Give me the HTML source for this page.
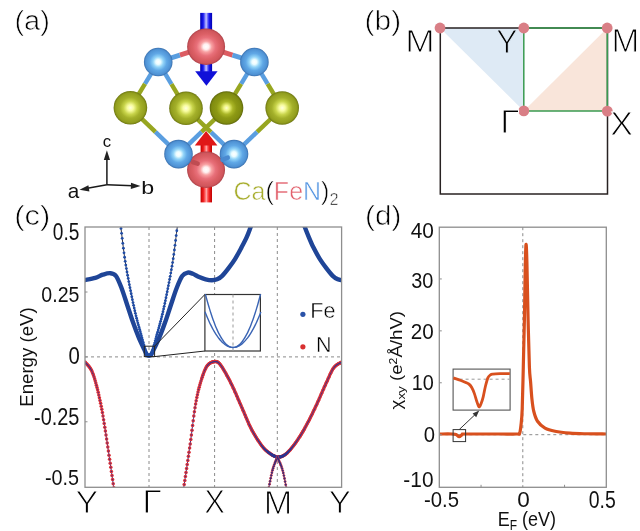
<!DOCTYPE html>
<html><head><meta charset="utf-8"><title>Ca(FeN)2</title>
<style>html,body{margin:0;padding:0;background:#fff;width:640px;height:531px;overflow:hidden}svg{display:block}
text{font-family:'Liberation Sans','DejaVu Sans',sans-serif}
.tri{fill:#111}
.form{fill:#000;stroke:#fff;stroke-width:0.6px}
.lab{fill:#000;stroke:#fff;stroke-width:0.7px}
.big{fill:#000;stroke:#fff;stroke-width:1.0px}
.bigY{fill:#000;stroke:#deeaf5;stroke-width:1.0px}
.leg{fill:#000;stroke:#fff;stroke-width:0.45px}
.tick{fill:#111}
.axl{fill:#111}
</style>
</head><body>
<svg width="640" height="531" viewBox="0 0 640 531"><defs>
<radialGradient id="gRed" cx="50%" cy="50%" r="50%">
 <stop offset="0" stop-color="#ffffff"/>
 <stop offset="0.15" stop-color="#fff0f0"/>
 <stop offset="0.3" stop-color="#f8a0a2"/>
 <stop offset="0.5" stop-color="#e8707a"/>
 <stop offset="0.7" stop-color="#dc6066"/>
 <stop offset="0.9" stop-color="#d0565c"/>
 <stop offset="0.97" stop-color="#b8484e"/>
 <stop offset="1" stop-color="#a84048"/>
</radialGradient>
<radialGradient id="gBlue" cx="50%" cy="50%" r="50%">
 <stop offset="0" stop-color="#ffffff"/>
 <stop offset="0.17" stop-color="#eafcff"/>
 <stop offset="0.36" stop-color="#92d4f8"/>
 <stop offset="0.6" stop-color="#60a8e6"/>
 <stop offset="0.88" stop-color="#4f92d4"/>
 <stop offset="0.97" stop-color="#3f78b8"/>
 <stop offset="1" stop-color="#346aa4"/>
</radialGradient>
<radialGradient id="gOlive" cx="50%" cy="50%" r="50%">
 <stop offset="0" stop-color="#ffffe0"/>
 <stop offset="0.18" stop-color="#f8fca0"/>
 <stop offset="0.4" stop-color="#c8d44a"/>
 <stop offset="0.62" stop-color="#a4b02a"/>
 <stop offset="0.88" stop-color="#929e1e"/>
 <stop offset="0.97" stop-color="#788214"/>
 <stop offset="1" stop-color="#687010"/>
</radialGradient>
<radialGradient id="gOlive3" cx="50%" cy="50%" r="50%">
 <stop offset="0" stop-color="#ffffd0"/>
 <stop offset="0.16" stop-color="#eef480"/>
 <stop offset="0.38" stop-color="#aab626"/>
 <stop offset="0.6" stop-color="#8d9914"/>
 <stop offset="0.88" stop-color="#808c10"/>
 <stop offset="0.97" stop-color="#68720c"/>
 <stop offset="1" stop-color="#5a620a"/>
</radialGradient>
<linearGradient id="gShaftB" x1="0" x2="1" y1="0" y2="0">
 <stop offset="0" stop-color="#0000b0"/>
 <stop offset="0.25" stop-color="#1818f0"/>
 <stop offset="0.42" stop-color="#8888ff"/>
 <stop offset="0.5" stop-color="#c8c8ff"/>
 <stop offset="0.58" stop-color="#8888ff"/>
 <stop offset="0.75" stop-color="#1818f0"/>
 <stop offset="1" stop-color="#0000b0"/>
</linearGradient>
<linearGradient id="gShaftR" x1="0" x2="1" y1="0" y2="0">
 <stop offset="0" stop-color="#c00000"/>
 <stop offset="0.25" stop-color="#f02020"/>
 <stop offset="0.42" stop-color="#ff7070"/>
 <stop offset="0.5" stop-color="#ffb0b0"/>
 <stop offset="0.58" stop-color="#ff7070"/>
 <stop offset="0.75" stop-color="#f02020"/>
 <stop offset="1" stop-color="#c00000"/>
</linearGradient>
</defs>
<g>
<line x1="158.20" y1="62.00" x2="144.97" y2="83.79" stroke="#5a9ee0" stroke-width="4.4"/><line x1="144.97" y1="83.79" x2="130.40" y2="107.80" stroke="#97a620" stroke-width="4.4"/>
<line x1="158.20" y1="62.00" x2="171.43" y2="84.04" stroke="#5a9ee0" stroke-width="4.4"/><line x1="171.43" y1="84.04" x2="186.00" y2="108.30" stroke="#97a620" stroke-width="4.4"/>
<line x1="254.40" y1="62.00" x2="241.12" y2="83.89" stroke="#5a9ee0" stroke-width="4.4"/><line x1="241.12" y1="83.89" x2="226.50" y2="108.00" stroke="#97a620" stroke-width="4.4"/>
<line x1="254.40" y1="62.00" x2="267.63" y2="83.89" stroke="#5a9ee0" stroke-width="4.4"/><line x1="267.63" y1="83.89" x2="282.20" y2="108.00" stroke="#97a620" stroke-width="4.4"/>
<line x1="178.50" y1="154.10" x2="155.39" y2="131.85" stroke="#5a9ee0" stroke-width="4.4"/><line x1="155.39" y1="131.85" x2="130.40" y2="107.80" stroke="#97a620" stroke-width="4.4"/>
<line x1="234.00" y1="154.10" x2="257.16" y2="131.95" stroke="#5a9ee0" stroke-width="4.4"/><line x1="257.16" y1="131.95" x2="282.20" y2="108.00" stroke="#97a620" stroke-width="4.4"/>
<line x1="234.00" y1="154.10" x2="210.94" y2="132.10" stroke="#5a9ee0" stroke-width="4.4"/><line x1="210.94" y1="132.10" x2="186.00" y2="108.30" stroke="#97a620" stroke-width="4.4"/>
<line x1="178.50" y1="154.10" x2="201.56" y2="131.95" stroke="#5a9ee0" stroke-width="4.4"/><line x1="201.56" y1="131.95" x2="226.50" y2="108.00" stroke="#97a620" stroke-width="4.4"/>
<line x1="206.10" y1="46.70" x2="179.86" y2="55.08" stroke="#dc5c62" stroke-width="4.9"/><line x1="179.86" y1="55.08" x2="158.20" y2="62.00" stroke="#5a9ee0" stroke-width="4.9"/>
<line x1="206.10" y1="46.70" x2="232.54" y2="55.07" stroke="#dc5c62" stroke-width="4.9"/><line x1="232.54" y1="55.07" x2="254.40" y2="62.00" stroke="#5a9ee0" stroke-width="4.9"/>
<rect x="200.2" y="12.9" width="11.9" height="59" fill="url(#gShaftB)"/>
<polygon points="195.2,71.2 217.6,71.2 206.4,85.8" fill="#1010d8"/>
<ellipse cx="130.40" cy="107.80" rx="16.80" ry="16.80" fill="url(#gOlive)"/>
<ellipse cx="186.00" cy="108.30" rx="16.80" ry="16.80" fill="url(#gOlive)"/>
<ellipse cx="226.50" cy="108.00" rx="16.80" ry="16.80" fill="url(#gOlive3)"/>
<ellipse cx="282.20" cy="108.00" rx="16.80" ry="16.80" fill="url(#gOlive)"/>
<ellipse cx="158.20" cy="62.00" rx="14.30" ry="14.30" fill="url(#gBlue)"/>
<ellipse cx="254.40" cy="62.00" rx="14.30" ry="14.30" fill="url(#gBlue)"/>
<rect x="200.6" y="144" width="11.4" height="58.4" fill="url(#gShaftR)"/>
<polygon points="194.8,145.4 217.4,145.4 206.1,131.1" fill="#e01818"/>
<ellipse cx="206.10" cy="46.70" rx="19.00" ry="18.30" fill="url(#gRed)"/>
<ellipse cx="206.05" cy="169.70" rx="19.00" ry="18.30" fill="url(#gRed)"/>
<line x1="192.7" y1="162" x2="197.6" y2="163.6" stroke="#bf4c52" stroke-width="4.6" stroke-linecap="round"/>
<ellipse cx="178.50" cy="154.10" rx="14.30" ry="14.30" fill="url(#gBlue)"/>
<ellipse cx="234.00" cy="154.10" rx="14.30" ry="14.30" fill="url(#gBlue)"/>
<line x1="222.5" y1="159.8" x2="227.8" y2="157.6" stroke="#4a8ad0" stroke-width="4.4" stroke-linecap="round"/>
</g>
<g stroke="#1a1a1a" stroke-width="1.5" fill="none"><line x1="106.9" y1="184.7" x2="106.9" y2="158"/><line x1="106.9" y1="184.7" x2="133" y2="185.8"/><line x1="106.9" y1="184.7" x2="86" y2="188.6"/></g>
<g fill="#222"><polygon points="106.9,150.3 103.8,160 110,160"/><polygon points="140.5,186 131,182.7 130.8,189"/><polygon points="79.5,189.7 88.4,185.2 89.4,191.4"/></g>
<polygon points="440,28 523.8,28 523.8,110.9" fill="#deeaf5"/>
<polygon points="523.8,110.9 607.3,28 607.3,110.9" fill="#f9e5da"/>
<rect x="440.3" y="28" width="167.2" height="166" fill="none" stroke="#282222" stroke-width="1.5"/>
<polyline points="523.8,28 607.3,28 607.3,110.9 523.8,110.9 523.8,28" fill="none" stroke="#3a9a50" stroke-width="1.5"/>
<circle cx="440.0" cy="28.0" r="5.4" fill="#d97f86"/>
<circle cx="523.8" cy="28.0" r="5.4" fill="#d97f86"/>
<circle cx="607.2" cy="28.0" r="5.4" fill="#d97f86"/>
<circle cx="523.8" cy="110.9" r="5.4" fill="#d97f86"/>
<circle cx="607.3" cy="111.1" r="5.4" fill="#d97f86"/>
<clipPath id="clipC"><rect x="85.0" y="227.0" width="256.6" height="260.3"/></clipPath>
<clipPath id="clipD"><rect x="439.3" y="227.2" width="167" height="259.6"/></clipPath>
<g stroke="#8a8a8a" stroke-width="1" stroke-dasharray="3,3" fill="none">
<line x1="149.0" y1="227.0" x2="149.0" y2="487.3"/>
<line x1="214.6" y1="227.0" x2="214.6" y2="487.3"/>
<line x1="277.3" y1="227.0" x2="277.3" y2="487.3"/>
<line x1="85.0" y1="356.9" x2="341.6" y2="356.9"/>
</g>
<g clip-path="url(#clipC)">
<path d="M85.00,280.00 C86.72,279.65 92.33,278.78 95.30,277.90 C98.27,277.02 100.30,275.48 102.80,274.70 C105.30,273.92 108.10,272.98 110.30,273.20 C112.50,273.42 114.12,273.50 116.00,276.00 C117.88,278.50 119.72,283.33 121.60,288.20 C123.48,293.07 125.42,299.55 127.30,305.20 C129.18,310.85 131.02,316.77 132.90,322.10 C134.78,327.43 136.72,332.65 138.60,337.20 C140.48,341.75 142.88,346.58 144.20,349.40 C145.52,352.22 145.70,353.03 146.50,354.10 C147.30,355.17 148.17,355.80 149.00,355.80 C149.83,355.80 150.70,355.17 151.50,354.10 C152.30,353.03 152.47,352.22 153.80,349.40 C155.13,346.58 157.60,341.75 159.50,337.20 C161.40,332.65 163.32,327.43 165.20,322.10 C167.08,316.77 168.90,310.85 170.80,305.20 C172.70,299.55 174.70,293.07 176.60,288.20 C178.50,283.33 180.35,278.60 182.20,276.00 C184.05,273.40 185.93,272.97 187.70,272.60 C189.47,272.23 190.88,273.07 192.80,273.80 C194.72,274.53 197.07,276.08 199.20,277.00 C201.33,277.92 203.47,278.77 205.60,279.30 C207.73,279.83 210.08,280.20 212.00,280.20 C213.92,280.20 215.40,280.03 217.10,279.30 C218.80,278.57 220.28,277.67 222.20,275.80 C224.12,273.93 226.47,270.88 228.60,268.10 C230.73,265.32 232.87,262.52 235.00,259.10 C237.13,255.68 239.47,251.22 241.40,247.60 C243.33,243.98 245.10,240.70 246.60,237.40 C248.10,234.10 249.25,230.87 250.40,227.80 C251.55,224.73 252.98,220.47 253.50,219.00" fill="none" stroke="#1f4597" stroke-width="4.4" stroke-linecap="round" stroke-linejoin="round"/>
<path d="M302.50,220.00 C302.88,221.18 303.82,224.42 304.80,227.10 C305.78,229.78 306.95,232.68 308.40,236.10 C309.85,239.52 311.58,243.77 313.50,247.60 C315.42,251.43 317.77,255.68 319.90,259.10 C322.03,262.52 324.17,265.32 326.30,268.10 C328.43,270.88 330.78,273.93 332.70,275.80 C334.62,277.67 336.32,278.57 337.80,279.30 C339.28,280.03 340.97,280.05 341.60,280.20" fill="none" stroke="#1f4597" stroke-width="4.4" stroke-linecap="round" stroke-linejoin="round"/>
<path d="M119.80,220.00 C119.97,221.13 119.93,220.13 120.80,226.80 C121.67,233.47 123.45,249.77 125.00,260.00 C126.55,270.23 128.32,279.10 130.10,288.20 C131.88,297.30 133.67,306.13 135.70,314.60 C137.73,323.07 140.83,333.60 142.30,339.00 C143.77,344.40 143.80,344.60 144.50,347.00 C145.20,349.40 145.75,351.93 146.50,353.40 C147.25,354.87 148.17,355.80 149.00,355.80 C149.83,355.80 150.75,354.87 151.50,353.40 C152.25,351.93 152.80,349.40 153.50,347.00 C154.20,344.60 154.23,344.40 155.70,339.00 C157.17,333.60 160.27,323.07 162.30,314.60 C164.33,306.13 166.12,297.30 167.90,288.20 C169.68,279.10 171.43,270.23 173.00,260.00 C174.57,249.77 176.42,233.47 177.30,226.80 C178.18,220.13 178.13,221.13 178.30,220.00" fill="none" stroke="#1a1a2a" stroke-width="0.9"/>
<g fill="#1f4ca6"><circle cx="119.80" cy="220.00" r="1.40"/><circle cx="120.40" cy="223.79" r="1.40"/><circle cx="121.00" cy="228.38" r="1.40"/><circle cx="121.60" cy="233.33" r="1.40"/><circle cx="122.20" cy="238.37" r="1.40"/><circle cx="122.80" cy="243.35" r="1.40"/><circle cx="123.40" cy="248.21" r="1.40"/><circle cx="124.00" cy="252.87" r="1.40"/><circle cx="124.60" cy="257.26" r="1.40"/><circle cx="125.20" cy="261.30" r="1.40"/><circle cx="125.80" cy="265.06" r="1.40"/><circle cx="126.40" cy="268.61" r="1.40"/><circle cx="127.00" cy="272.00" r="1.40"/><circle cx="127.60" cy="275.26" r="1.40"/><circle cx="128.20" cy="278.44" r="1.40"/><circle cx="128.80" cy="281.55" r="1.40"/><circle cx="129.40" cy="284.63" r="1.40"/><circle cx="130.00" cy="287.69" r="1.40"/><circle cx="130.60" cy="290.74" r="1.40"/><circle cx="131.20" cy="293.77" r="1.40"/><circle cx="131.80" cy="296.75" r="1.40"/><circle cx="132.40" cy="299.68" r="1.40"/><circle cx="133.00" cy="302.56" r="1.40"/><circle cx="133.60" cy="305.37" r="1.40"/><circle cx="134.20" cy="308.10" r="1.40"/><circle cx="134.80" cy="310.76" r="1.40"/><circle cx="135.40" cy="313.34" r="1.40"/><circle cx="136.00" cy="315.83" r="1.40"/><circle cx="136.60" cy="318.22" r="1.40"/><circle cx="137.20" cy="320.53" r="1.40"/><circle cx="137.80" cy="322.79" r="1.40"/><circle cx="138.40" cy="325.00" r="1.40"/><circle cx="139.00" cy="327.18" r="1.40"/><circle cx="139.60" cy="329.34" r="1.40"/><circle cx="140.20" cy="331.48" r="1.40"/><circle cx="140.80" cy="333.62" r="1.40"/><circle cx="141.40" cy="335.75" r="1.40"/><circle cx="142.00" cy="337.91" r="1.40"/><circle cx="142.60" cy="340.11" r="1.40"/><circle cx="143.20" cy="342.32" r="1.40"/><circle cx="143.80" cy="344.54" r="1.40"/><circle cx="144.40" cy="346.66" r="1.40"/><circle cx="145.00" cy="348.80" r="1.40"/><circle cx="145.60" cy="350.96" r="1.40"/><circle cx="146.20" cy="352.73" r="1.40"/><circle cx="146.80" cy="353.94" r="1.40"/><circle cx="147.40" cy="354.80" r="1.40"/><circle cx="148.00" cy="355.40" r="1.40"/><circle cx="148.60" cy="355.73" r="1.40"/><circle cx="149.20" cy="355.78" r="1.40"/><circle cx="149.80" cy="355.54" r="1.40"/><circle cx="150.40" cy="355.03" r="1.40"/><circle cx="151.00" cy="354.26" r="1.40"/><circle cx="151.60" cy="353.20" r="1.40"/><circle cx="152.20" cy="351.61" r="1.40"/><circle cx="152.80" cy="349.54" r="1.40"/><circle cx="153.40" cy="347.35" r="1.40"/><circle cx="154.00" cy="345.26" r="1.40"/><circle cx="154.60" cy="343.06" r="1.40"/><circle cx="155.20" cy="340.84" r="1.40"/><circle cx="155.80" cy="338.63" r="1.40"/><circle cx="156.40" cy="336.47" r="1.40"/><circle cx="157.00" cy="334.33" r="1.40"/><circle cx="157.60" cy="332.20" r="1.40"/><circle cx="158.20" cy="330.06" r="1.40"/><circle cx="158.80" cy="327.90" r="1.40"/><circle cx="159.40" cy="325.73" r="1.40"/><circle cx="160.00" cy="323.53" r="1.40"/><circle cx="160.60" cy="321.29" r="1.40"/><circle cx="161.20" cy="319.00" r="1.40"/><circle cx="161.80" cy="316.64" r="1.40"/><circle cx="162.40" cy="314.18" r="1.40"/><circle cx="163.00" cy="311.63" r="1.40"/><circle cx="163.60" cy="309.00" r="1.40"/><circle cx="164.20" cy="306.29" r="1.40"/><circle cx="164.80" cy="303.50" r="1.40"/><circle cx="165.40" cy="300.65" r="1.40"/><circle cx="166.00" cy="297.73" r="1.40"/><circle cx="166.60" cy="294.77" r="1.40"/><circle cx="167.20" cy="291.76" r="1.40"/><circle cx="167.80" cy="288.71" r="1.40"/><circle cx="168.40" cy="285.65" r="1.40"/><circle cx="169.00" cy="282.57" r="1.40"/><circle cx="169.60" cy="279.47" r="1.40"/><circle cx="170.20" cy="276.30" r="1.40"/><circle cx="170.80" cy="273.06" r="1.40"/><circle cx="171.40" cy="269.71" r="1.40"/><circle cx="172.00" cy="266.22" r="1.40"/><circle cx="172.60" cy="262.56" r="1.40"/><circle cx="173.20" cy="258.67" r="1.40"/><circle cx="173.80" cy="254.46" r="1.40"/><circle cx="174.40" cy="249.98" r="1.40"/><circle cx="175.00" cy="245.31" r="1.40"/><circle cx="175.60" cy="240.50" r="1.40"/><circle cx="176.20" cy="235.61" r="1.40"/><circle cx="176.80" cy="230.73" r="1.40"/><circle cx="177.40" cy="226.05" r="1.40"/><circle cx="178.00" cy="221.76" r="1.40"/></g>
<path d="M85.00,362.10 C86.07,363.45 89.48,366.30 91.40,370.20 C93.32,374.10 94.80,379.15 96.50,385.50 C98.20,391.85 100.12,400.70 101.60,408.30 C103.08,415.90 104.13,423.07 105.40,431.10 C106.67,439.13 107.85,447.40 109.20,456.50 C110.55,465.60 112.62,479.78 113.50,485.70 C114.38,491.62 114.33,490.95 114.50,492.00" fill="none" stroke="#2a2f88" stroke-width="1"/>
<g fill="#dc3038"><circle cx="85.00" cy="362.10" r="1.75"/><circle cx="85.60" cy="362.78" r="1.75"/><circle cx="86.20" cy="363.41" r="1.75"/><circle cx="86.80" cy="364.03" r="1.75"/><circle cx="87.40" cy="364.67" r="1.75"/><circle cx="88.00" cy="365.33" r="1.75"/><circle cx="88.60" cy="366.02" r="1.75"/><circle cx="89.20" cy="366.76" r="1.75"/><circle cx="89.80" cy="367.56" r="1.75"/><circle cx="90.40" cy="368.44" r="1.75"/><circle cx="91.00" cy="369.44" r="1.75"/><circle cx="91.60" cy="370.62" r="1.75"/><circle cx="92.20" cy="371.95" r="1.75"/><circle cx="92.80" cy="373.43" r="1.75"/><circle cx="93.40" cy="375.06" r="1.75"/><circle cx="94.00" cy="376.84" r="1.75"/><circle cx="94.60" cy="378.75" r="1.75"/><circle cx="95.20" cy="380.79" r="1.75"/><circle cx="95.80" cy="382.92" r="1.75"/><circle cx="96.40" cy="385.13" r="1.75"/><circle cx="97.00" cy="387.41" r="1.75"/><circle cx="97.60" cy="389.82" r="1.75"/><circle cx="98.20" cy="392.34" r="1.75"/><circle cx="98.80" cy="394.95" r="1.75"/><circle cx="99.40" cy="397.65" r="1.75"/><circle cx="100.00" cy="400.44" r="1.75"/><circle cx="100.60" cy="403.31" r="1.75"/><circle cx="101.20" cy="406.27" r="1.75"/><circle cx="101.80" cy="409.34" r="1.75"/><circle cx="102.40" cy="412.58" r="1.75"/><circle cx="103.00" cy="416.02" r="1.75"/><circle cx="103.60" cy="419.65" r="1.75"/><circle cx="104.20" cy="423.43" r="1.75"/><circle cx="104.80" cy="427.27" r="1.75"/><circle cx="105.40" cy="431.10" r="1.75"/><circle cx="106.00" cy="434.96" r="1.75"/><circle cx="106.60" cy="438.91" r="1.75"/><circle cx="107.20" cy="442.94" r="1.75"/><circle cx="107.80" cy="447.00" r="1.75"/><circle cx="108.40" cy="451.08" r="1.75"/><circle cx="109.00" cy="455.15" r="1.75"/><circle cx="109.60" cy="459.20" r="1.75"/><circle cx="110.20" cy="463.27" r="1.75"/><circle cx="110.80" cy="467.35" r="1.75"/><circle cx="111.40" cy="471.44" r="1.75"/><circle cx="112.00" cy="475.53" r="1.75"/><circle cx="112.60" cy="479.61" r="1.75"/><circle cx="113.20" cy="483.68" r="1.75"/><circle cx="113.80" cy="487.69" r="1.75"/><circle cx="114.40" cy="491.42" r="1.75"/></g>
<g fill="#2c3590"><circle cx="85.00" cy="362.10" r="0.60"/><circle cx="85.60" cy="362.78" r="0.60"/><circle cx="86.20" cy="363.41" r="0.60"/><circle cx="86.80" cy="364.03" r="0.60"/><circle cx="87.40" cy="364.67" r="0.60"/><circle cx="88.00" cy="365.33" r="0.60"/><circle cx="88.60" cy="366.02" r="0.60"/><circle cx="89.20" cy="366.76" r="0.60"/><circle cx="89.80" cy="367.56" r="0.60"/><circle cx="90.40" cy="368.44" r="0.60"/><circle cx="91.00" cy="369.44" r="0.60"/><circle cx="91.60" cy="370.62" r="0.60"/><circle cx="92.20" cy="371.95" r="0.60"/><circle cx="92.80" cy="373.43" r="0.60"/><circle cx="93.40" cy="375.06" r="0.60"/><circle cx="94.00" cy="376.84" r="0.60"/><circle cx="94.60" cy="378.75" r="0.60"/><circle cx="95.20" cy="380.79" r="0.60"/><circle cx="95.80" cy="382.92" r="0.60"/><circle cx="96.40" cy="385.13" r="0.60"/><circle cx="97.00" cy="387.41" r="0.60"/><circle cx="97.60" cy="389.82" r="0.60"/><circle cx="98.20" cy="392.34" r="0.60"/><circle cx="98.80" cy="394.95" r="0.60"/><circle cx="99.40" cy="397.65" r="0.60"/><circle cx="100.00" cy="400.44" r="0.60"/><circle cx="100.60" cy="403.31" r="0.60"/><circle cx="101.20" cy="406.27" r="0.60"/><circle cx="101.80" cy="409.34" r="0.60"/><circle cx="102.40" cy="412.58" r="0.60"/><circle cx="103.00" cy="416.02" r="0.60"/><circle cx="103.60" cy="419.65" r="0.60"/><circle cx="104.20" cy="423.43" r="0.60"/><circle cx="104.80" cy="427.27" r="0.60"/><circle cx="105.40" cy="431.10" r="0.60"/><circle cx="106.00" cy="434.96" r="0.60"/><circle cx="106.60" cy="438.91" r="0.60"/><circle cx="107.20" cy="442.94" r="0.60"/><circle cx="107.80" cy="447.00" r="0.60"/><circle cx="108.40" cy="451.08" r="0.60"/><circle cx="109.00" cy="455.15" r="0.60"/><circle cx="109.60" cy="459.20" r="0.60"/><circle cx="110.20" cy="463.27" r="0.60"/><circle cx="110.80" cy="467.35" r="0.60"/><circle cx="111.40" cy="471.44" r="0.60"/><circle cx="112.00" cy="475.53" r="0.60"/><circle cx="112.60" cy="479.61" r="0.60"/><circle cx="113.20" cy="483.68" r="0.60"/><circle cx="113.80" cy="487.69" r="0.60"/><circle cx="114.40" cy="491.42" r="0.60"/></g>
<path d="M183.00,492.00 C183.15,491.10 182.70,494.62 183.90,486.60 C185.10,478.58 188.30,457.37 190.20,443.90 C192.10,430.43 193.60,415.95 195.30,405.80 C197.00,395.65 198.48,389.57 200.40,383.00 C202.32,376.43 204.43,369.97 206.80,366.40 C209.17,362.83 212.28,361.80 214.60,361.60 C216.92,361.40 217.98,361.63 220.70,365.20 C223.42,368.77 227.50,376.23 230.90,383.00 C234.30,389.77 237.72,398.18 241.10,405.80 C244.48,413.42 247.82,422.13 251.20,428.70 C254.58,435.27 258.43,441.18 261.40,445.20 C264.37,449.22 266.35,450.83 269.00,452.80 C271.65,454.77 274.55,456.75 277.30,457.00 C280.05,457.25 282.45,456.67 285.50,454.30 C288.55,451.93 292.22,447.47 295.60,442.80 C298.98,438.13 302.40,432.45 305.80,426.30 C309.20,420.15 312.60,413.12 316.00,405.90 C319.40,398.68 323.23,389.37 326.20,383.00 C329.17,376.63 331.23,371.18 333.80,367.70 C336.37,364.22 340.30,363.03 341.60,362.10" fill="none" stroke="#2a2f88" stroke-width="1"/>
<g fill="#dc3038"><circle cx="183.00" cy="492.00" r="1.75"/><circle cx="183.60" cy="488.59" r="1.75"/><circle cx="184.20" cy="484.60" r="1.75"/><circle cx="184.80" cy="480.60" r="1.75"/><circle cx="185.40" cy="476.59" r="1.75"/><circle cx="186.00" cy="472.58" r="1.75"/><circle cx="186.60" cy="468.55" r="1.75"/><circle cx="187.20" cy="464.51" r="1.75"/><circle cx="187.80" cy="460.46" r="1.75"/><circle cx="188.40" cy="456.37" r="1.75"/><circle cx="189.00" cy="452.26" r="1.75"/><circle cx="189.60" cy="448.11" r="1.75"/><circle cx="190.20" cy="443.90" r="1.75"/><circle cx="190.80" cy="439.52" r="1.75"/><circle cx="191.40" cy="434.94" r="1.75"/><circle cx="192.00" cy="430.20" r="1.75"/><circle cx="192.60" cy="425.40" r="1.75"/><circle cx="193.20" cy="420.64" r="1.75"/><circle cx="193.80" cy="416.02" r="1.75"/><circle cx="194.40" cy="411.66" r="1.75"/><circle cx="195.00" cy="407.65" r="1.75"/><circle cx="195.60" cy="404.04" r="1.75"/><circle cx="196.20" cy="400.69" r="1.75"/><circle cx="196.80" cy="397.59" r="1.75"/><circle cx="197.40" cy="394.71" r="1.75"/><circle cx="198.00" cy="392.06" r="1.75"/><circle cx="198.60" cy="389.59" r="1.75"/><circle cx="199.20" cy="387.28" r="1.75"/><circle cx="199.80" cy="385.09" r="1.75"/><circle cx="200.40" cy="383.00" r="1.75"/><circle cx="201.00" cy="380.97" r="1.75"/><circle cx="201.60" cy="379.01" r="1.75"/><circle cx="202.20" cy="377.13" r="1.75"/><circle cx="202.80" cy="375.34" r="1.75"/><circle cx="203.40" cy="373.66" r="1.75"/><circle cx="204.00" cy="372.09" r="1.75"/><circle cx="204.60" cy="370.63" r="1.75"/><circle cx="205.20" cy="369.30" r="1.75"/><circle cx="205.80" cy="368.10" r="1.75"/><circle cx="206.40" cy="367.04" r="1.75"/><circle cx="207.00" cy="366.11" r="1.75"/><circle cx="207.60" cy="365.32" r="1.75"/><circle cx="208.20" cy="364.65" r="1.75"/><circle cx="208.80" cy="364.08" r="1.75"/><circle cx="209.40" cy="363.58" r="1.75"/><circle cx="210.00" cy="363.16" r="1.75"/><circle cx="210.60" cy="362.80" r="1.75"/><circle cx="211.20" cy="362.50" r="1.75"/><circle cx="211.80" cy="362.24" r="1.75"/><circle cx="212.40" cy="362.03" r="1.75"/><circle cx="213.00" cy="361.86" r="1.75"/><circle cx="213.60" cy="361.74" r="1.75"/><circle cx="214.20" cy="361.64" r="1.75"/><circle cx="214.80" cy="361.58" r="1.75"/><circle cx="215.40" cy="361.55" r="1.75"/><circle cx="216.00" cy="361.56" r="1.75"/><circle cx="216.60" cy="361.65" r="1.75"/><circle cx="217.20" cy="361.84" r="1.75"/><circle cx="217.80" cy="362.17" r="1.75"/><circle cx="218.40" cy="362.62" r="1.75"/><circle cx="219.00" cy="363.18" r="1.75"/><circle cx="219.60" cy="363.83" r="1.75"/><circle cx="220.20" cy="364.56" r="1.75"/><circle cx="220.80" cy="365.33" r="1.75"/><circle cx="221.40" cy="366.16" r="1.75"/><circle cx="222.00" cy="367.04" r="1.75"/><circle cx="222.60" cy="367.96" r="1.75"/><circle cx="223.20" cy="368.92" r="1.75"/><circle cx="223.80" cy="369.90" r="1.75"/><circle cx="224.40" cy="370.91" r="1.75"/><circle cx="225.00" cy="371.95" r="1.75"/><circle cx="225.60" cy="373.00" r="1.75"/><circle cx="226.20" cy="374.07" r="1.75"/><circle cx="226.80" cy="375.16" r="1.75"/><circle cx="227.40" cy="376.27" r="1.75"/><circle cx="228.00" cy="377.39" r="1.75"/><circle cx="228.60" cy="378.52" r="1.75"/><circle cx="229.20" cy="379.67" r="1.75"/><circle cx="229.80" cy="380.83" r="1.75"/><circle cx="230.40" cy="382.01" r="1.75"/><circle cx="231.00" cy="383.20" r="1.75"/><circle cx="231.60" cy="384.42" r="1.75"/><circle cx="232.20" cy="385.66" r="1.75"/><circle cx="232.80" cy="386.93" r="1.75"/><circle cx="233.40" cy="388.23" r="1.75"/><circle cx="234.00" cy="389.55" r="1.75"/><circle cx="234.60" cy="390.89" r="1.75"/><circle cx="235.20" cy="392.24" r="1.75"/><circle cx="235.80" cy="393.61" r="1.75"/><circle cx="236.40" cy="394.99" r="1.75"/><circle cx="237.00" cy="396.37" r="1.75"/><circle cx="237.60" cy="397.76" r="1.75"/><circle cx="238.20" cy="399.15" r="1.75"/><circle cx="238.80" cy="400.54" r="1.75"/><circle cx="239.40" cy="401.92" r="1.75"/><circle cx="240.00" cy="403.30" r="1.75"/><circle cx="240.60" cy="404.67" r="1.75"/><circle cx="241.20" cy="406.03" r="1.75"/><circle cx="241.80" cy="407.39" r="1.75"/><circle cx="242.40" cy="408.78" r="1.75"/><circle cx="243.00" cy="410.18" r="1.75"/><circle cx="243.60" cy="411.60" r="1.75"/><circle cx="244.20" cy="413.02" r="1.75"/><circle cx="244.80" cy="414.45" r="1.75"/><circle cx="245.40" cy="415.87" r="1.75"/><circle cx="246.00" cy="417.29" r="1.75"/><circle cx="246.60" cy="418.70" r="1.75"/><circle cx="247.20" cy="420.09" r="1.75"/><circle cx="247.80" cy="421.47" r="1.75"/><circle cx="248.40" cy="422.82" r="1.75"/><circle cx="249.00" cy="424.15" r="1.75"/><circle cx="249.60" cy="425.44" r="1.75"/><circle cx="250.20" cy="426.70" r="1.75"/><circle cx="250.80" cy="427.91" r="1.75"/><circle cx="251.40" cy="429.09" r="1.75"/><circle cx="252.00" cy="430.22" r="1.75"/><circle cx="252.60" cy="431.33" r="1.75"/><circle cx="253.20" cy="432.42" r="1.75"/><circle cx="253.80" cy="433.48" r="1.75"/><circle cx="254.40" cy="434.51" r="1.75"/><circle cx="255.00" cy="435.53" r="1.75"/><circle cx="255.60" cy="436.52" r="1.75"/><circle cx="256.20" cy="437.50" r="1.75"/><circle cx="256.80" cy="438.45" r="1.75"/><circle cx="257.40" cy="439.39" r="1.75"/><circle cx="258.00" cy="440.31" r="1.75"/><circle cx="258.60" cy="441.21" r="1.75"/><circle cx="259.20" cy="442.10" r="1.75"/><circle cx="259.80" cy="442.97" r="1.75"/><circle cx="260.40" cy="443.82" r="1.75"/><circle cx="261.00" cy="444.65" r="1.75"/><circle cx="261.60" cy="445.47" r="1.75"/><circle cx="262.20" cy="446.26" r="1.75"/><circle cx="262.80" cy="447.01" r="1.75"/><circle cx="263.40" cy="447.73" r="1.75"/><circle cx="264.00" cy="448.41" r="1.75"/><circle cx="264.60" cy="449.05" r="1.75"/><circle cx="265.20" cy="449.65" r="1.75"/><circle cx="265.80" cy="450.22" r="1.75"/><circle cx="266.40" cy="450.75" r="1.75"/><circle cx="267.00" cy="451.26" r="1.75"/><circle cx="267.60" cy="451.74" r="1.75"/><circle cx="268.20" cy="452.20" r="1.75"/><circle cx="268.80" cy="452.65" r="1.75"/><circle cx="269.40" cy="453.10" r="1.75"/><circle cx="270.00" cy="453.53" r="1.75"/><circle cx="270.60" cy="453.96" r="1.75"/><circle cx="271.20" cy="454.37" r="1.75"/><circle cx="271.80" cy="454.76" r="1.75"/><circle cx="272.40" cy="455.13" r="1.75"/><circle cx="273.00" cy="455.48" r="1.75"/><circle cx="273.60" cy="455.80" r="1.75"/><circle cx="274.20" cy="456.10" r="1.75"/><circle cx="274.80" cy="456.36" r="1.75"/><circle cx="275.40" cy="456.58" r="1.75"/><circle cx="276.00" cy="456.76" r="1.75"/><circle cx="276.60" cy="456.90" r="1.75"/><circle cx="277.20" cy="456.99" r="1.75"/><circle cx="277.80" cy="457.04" r="1.75"/><circle cx="278.40" cy="457.05" r="1.75"/><circle cx="279.00" cy="457.04" r="1.75"/><circle cx="279.60" cy="456.99" r="1.75"/><circle cx="280.20" cy="456.90" r="1.75"/><circle cx="280.80" cy="456.77" r="1.75"/><circle cx="281.40" cy="456.60" r="1.75"/><circle cx="282.00" cy="456.38" r="1.75"/><circle cx="282.60" cy="456.12" r="1.75"/><circle cx="283.20" cy="455.82" r="1.75"/><circle cx="283.80" cy="455.48" r="1.75"/><circle cx="284.40" cy="455.10" r="1.75"/><circle cx="285.00" cy="454.68" r="1.75"/><circle cx="285.60" cy="454.22" r="1.75"/><circle cx="286.20" cy="453.73" r="1.75"/><circle cx="286.80" cy="453.20" r="1.75"/><circle cx="287.40" cy="452.64" r="1.75"/><circle cx="288.00" cy="452.05" r="1.75"/><circle cx="288.60" cy="451.43" r="1.75"/><circle cx="289.20" cy="450.79" r="1.75"/><circle cx="289.80" cy="450.13" r="1.75"/><circle cx="290.40" cy="449.44" r="1.75"/><circle cx="291.00" cy="448.74" r="1.75"/><circle cx="291.60" cy="448.01" r="1.75"/><circle cx="292.20" cy="447.27" r="1.75"/><circle cx="292.80" cy="446.52" r="1.75"/><circle cx="293.40" cy="445.75" r="1.75"/><circle cx="294.00" cy="444.96" r="1.75"/><circle cx="294.60" cy="444.16" r="1.75"/><circle cx="295.20" cy="443.35" r="1.75"/><circle cx="295.80" cy="442.52" r="1.75"/><circle cx="296.40" cy="441.68" r="1.75"/><circle cx="297.00" cy="440.81" r="1.75"/><circle cx="297.60" cy="439.93" r="1.75"/><circle cx="298.20" cy="439.03" r="1.75"/><circle cx="298.80" cy="438.11" r="1.75"/><circle cx="299.40" cy="437.18" r="1.75"/><circle cx="300.00" cy="436.23" r="1.75"/><circle cx="300.60" cy="435.26" r="1.75"/><circle cx="301.20" cy="434.28" r="1.75"/><circle cx="301.80" cy="433.28" r="1.75"/><circle cx="302.40" cy="432.27" r="1.75"/><circle cx="303.00" cy="431.24" r="1.75"/><circle cx="303.60" cy="430.21" r="1.75"/><circle cx="304.20" cy="429.16" r="1.75"/><circle cx="304.80" cy="428.09" r="1.75"/><circle cx="305.40" cy="427.02" r="1.75"/><circle cx="306.00" cy="425.94" r="1.75"/><circle cx="306.60" cy="424.84" r="1.75"/><circle cx="307.20" cy="423.72" r="1.75"/><circle cx="307.80" cy="422.59" r="1.75"/><circle cx="308.40" cy="421.44" r="1.75"/><circle cx="309.00" cy="420.27" r="1.75"/><circle cx="309.60" cy="419.09" r="1.75"/><circle cx="310.20" cy="417.90" r="1.75"/><circle cx="310.80" cy="416.70" r="1.75"/><circle cx="311.40" cy="415.49" r="1.75"/><circle cx="312.00" cy="414.26" r="1.75"/><circle cx="312.60" cy="413.03" r="1.75"/><circle cx="313.20" cy="411.79" r="1.75"/><circle cx="313.80" cy="410.54" r="1.75"/><circle cx="314.40" cy="409.28" r="1.75"/><circle cx="315.00" cy="408.02" r="1.75"/><circle cx="315.60" cy="406.75" r="1.75"/><circle cx="316.20" cy="405.47" r="1.75"/><circle cx="316.80" cy="404.18" r="1.75"/><circle cx="317.40" cy="402.87" r="1.75"/><circle cx="318.00" cy="401.54" r="1.75"/><circle cx="318.60" cy="400.20" r="1.75"/><circle cx="319.20" cy="398.84" r="1.75"/><circle cx="319.80" cy="397.48" r="1.75"/><circle cx="320.40" cy="396.11" r="1.75"/><circle cx="321.00" cy="394.73" r="1.75"/><circle cx="321.60" cy="393.36" r="1.75"/><circle cx="322.20" cy="391.98" r="1.75"/><circle cx="322.80" cy="390.60" r="1.75"/><circle cx="323.40" cy="389.23" r="1.75"/><circle cx="324.00" cy="387.87" r="1.75"/><circle cx="324.60" cy="386.52" r="1.75"/><circle cx="325.20" cy="385.18" r="1.75"/><circle cx="325.80" cy="383.86" r="1.75"/><circle cx="326.40" cy="382.57" r="1.75"/><circle cx="327.00" cy="381.26" r="1.75"/><circle cx="327.60" cy="379.93" r="1.75"/><circle cx="328.20" cy="378.59" r="1.75"/><circle cx="328.80" cy="377.24" r="1.75"/><circle cx="329.40" cy="375.91" r="1.75"/><circle cx="330.00" cy="374.59" r="1.75"/><circle cx="330.60" cy="373.32" r="1.75"/><circle cx="331.20" cy="372.09" r="1.75"/><circle cx="331.80" cy="370.94" r="1.75"/><circle cx="332.40" cy="369.86" r="1.75"/><circle cx="333.00" cy="368.87" r="1.75"/><circle cx="333.60" cy="367.98" r="1.75"/><circle cx="334.20" cy="367.19" r="1.75"/><circle cx="334.80" cy="366.52" r="1.75"/><circle cx="335.40" cy="365.94" r="1.75"/><circle cx="336.00" cy="365.42" r="1.75"/><circle cx="336.60" cy="364.96" r="1.75"/><circle cx="337.20" cy="364.55" r="1.75"/><circle cx="337.80" cy="364.17" r="1.75"/><circle cx="338.40" cy="363.82" r="1.75"/><circle cx="339.00" cy="363.49" r="1.75"/><circle cx="339.60" cy="363.18" r="1.75"/><circle cx="340.20" cy="362.88" r="1.75"/><circle cx="340.80" cy="362.57" r="1.75"/><circle cx="341.40" cy="362.23" r="1.75"/></g>
<g fill="#2c3590"><circle cx="183.00" cy="492.00" r="0.60"/><circle cx="183.60" cy="488.59" r="0.60"/><circle cx="184.20" cy="484.60" r="0.60"/><circle cx="184.80" cy="480.60" r="0.60"/><circle cx="185.40" cy="476.59" r="0.60"/><circle cx="186.00" cy="472.58" r="0.60"/><circle cx="186.60" cy="468.55" r="0.60"/><circle cx="187.20" cy="464.51" r="0.60"/><circle cx="187.80" cy="460.46" r="0.60"/><circle cx="188.40" cy="456.37" r="0.60"/><circle cx="189.00" cy="452.26" r="0.60"/><circle cx="189.60" cy="448.11" r="0.60"/><circle cx="190.20" cy="443.90" r="0.60"/><circle cx="190.80" cy="439.52" r="0.60"/><circle cx="191.40" cy="434.94" r="0.60"/><circle cx="192.00" cy="430.20" r="0.60"/><circle cx="192.60" cy="425.40" r="0.60"/><circle cx="193.20" cy="420.64" r="0.60"/><circle cx="193.80" cy="416.02" r="0.60"/><circle cx="194.40" cy="411.66" r="0.60"/><circle cx="195.00" cy="407.65" r="0.60"/><circle cx="195.60" cy="404.04" r="0.60"/><circle cx="196.20" cy="400.69" r="0.60"/><circle cx="196.80" cy="397.59" r="0.60"/><circle cx="197.40" cy="394.71" r="0.60"/><circle cx="198.00" cy="392.06" r="0.60"/><circle cx="198.60" cy="389.59" r="0.60"/><circle cx="199.20" cy="387.28" r="0.60"/><circle cx="199.80" cy="385.09" r="0.60"/><circle cx="200.40" cy="383.00" r="0.60"/><circle cx="201.00" cy="380.97" r="0.60"/><circle cx="201.60" cy="379.01" r="0.60"/><circle cx="202.20" cy="377.13" r="0.60"/><circle cx="202.80" cy="375.34" r="0.60"/><circle cx="203.40" cy="373.66" r="0.60"/><circle cx="204.00" cy="372.09" r="0.60"/><circle cx="204.60" cy="370.63" r="0.60"/><circle cx="205.20" cy="369.30" r="0.60"/><circle cx="205.80" cy="368.10" r="0.60"/><circle cx="206.40" cy="367.04" r="0.60"/><circle cx="207.00" cy="366.11" r="0.60"/><circle cx="207.60" cy="365.32" r="0.60"/><circle cx="208.20" cy="364.65" r="0.60"/><circle cx="208.80" cy="364.08" r="0.60"/><circle cx="209.40" cy="363.58" r="0.60"/><circle cx="210.00" cy="363.16" r="0.60"/><circle cx="210.60" cy="362.80" r="0.60"/><circle cx="211.20" cy="362.50" r="0.60"/><circle cx="211.80" cy="362.24" r="0.60"/><circle cx="212.40" cy="362.03" r="0.60"/><circle cx="213.00" cy="361.86" r="0.60"/><circle cx="213.60" cy="361.74" r="0.60"/><circle cx="214.20" cy="361.64" r="0.60"/><circle cx="214.80" cy="361.58" r="0.60"/><circle cx="215.40" cy="361.55" r="0.60"/><circle cx="216.00" cy="361.56" r="0.60"/><circle cx="216.60" cy="361.65" r="0.60"/><circle cx="217.20" cy="361.84" r="0.60"/><circle cx="217.80" cy="362.17" r="0.60"/><circle cx="218.40" cy="362.62" r="0.60"/><circle cx="219.00" cy="363.18" r="0.60"/><circle cx="219.60" cy="363.83" r="0.60"/><circle cx="220.20" cy="364.56" r="0.60"/><circle cx="220.80" cy="365.33" r="0.60"/><circle cx="221.40" cy="366.16" r="0.60"/><circle cx="222.00" cy="367.04" r="0.60"/><circle cx="222.60" cy="367.96" r="0.60"/><circle cx="223.20" cy="368.92" r="0.60"/><circle cx="223.80" cy="369.90" r="0.60"/><circle cx="224.40" cy="370.91" r="0.60"/><circle cx="225.00" cy="371.95" r="0.60"/><circle cx="225.60" cy="373.00" r="0.60"/><circle cx="226.20" cy="374.07" r="0.60"/><circle cx="226.80" cy="375.16" r="0.60"/><circle cx="227.40" cy="376.27" r="0.60"/><circle cx="228.00" cy="377.39" r="0.60"/><circle cx="228.60" cy="378.52" r="0.60"/><circle cx="229.20" cy="379.67" r="0.60"/><circle cx="229.80" cy="380.83" r="0.60"/><circle cx="230.40" cy="382.01" r="0.60"/><circle cx="231.00" cy="383.20" r="0.60"/><circle cx="231.60" cy="384.42" r="0.60"/><circle cx="232.20" cy="385.66" r="0.60"/><circle cx="232.80" cy="386.93" r="0.60"/><circle cx="233.40" cy="388.23" r="0.60"/><circle cx="234.00" cy="389.55" r="0.60"/><circle cx="234.60" cy="390.89" r="0.60"/><circle cx="235.20" cy="392.24" r="0.60"/><circle cx="235.80" cy="393.61" r="0.60"/><circle cx="236.40" cy="394.99" r="0.60"/><circle cx="237.00" cy="396.37" r="0.60"/><circle cx="237.60" cy="397.76" r="0.60"/><circle cx="238.20" cy="399.15" r="0.60"/><circle cx="238.80" cy="400.54" r="0.60"/><circle cx="239.40" cy="401.92" r="0.60"/><circle cx="240.00" cy="403.30" r="0.60"/><circle cx="240.60" cy="404.67" r="0.60"/><circle cx="241.20" cy="406.03" r="0.60"/><circle cx="241.80" cy="407.39" r="0.60"/><circle cx="242.40" cy="408.78" r="0.60"/><circle cx="243.00" cy="410.18" r="0.60"/><circle cx="243.60" cy="411.60" r="0.60"/><circle cx="244.20" cy="413.02" r="0.60"/><circle cx="244.80" cy="414.45" r="0.60"/><circle cx="245.40" cy="415.87" r="0.60"/><circle cx="246.00" cy="417.29" r="0.60"/><circle cx="246.60" cy="418.70" r="0.60"/><circle cx="247.20" cy="420.09" r="0.60"/><circle cx="247.80" cy="421.47" r="0.61"/><circle cx="248.40" cy="422.82" r="0.61"/><circle cx="249.00" cy="424.15" r="0.61"/><circle cx="249.60" cy="425.44" r="0.61"/><circle cx="250.20" cy="426.70" r="0.61"/><circle cx="250.80" cy="427.91" r="0.61"/><circle cx="251.40" cy="429.09" r="0.62"/><circle cx="252.00" cy="430.22" r="0.62"/><circle cx="252.60" cy="431.33" r="0.63"/><circle cx="253.20" cy="432.42" r="0.63"/><circle cx="253.80" cy="433.48" r="0.64"/><circle cx="254.40" cy="434.51" r="0.64"/><circle cx="255.00" cy="435.53" r="0.65"/><circle cx="255.60" cy="436.52" r="0.66"/><circle cx="256.20" cy="437.50" r="0.67"/><circle cx="256.80" cy="438.45" r="0.68"/><circle cx="257.40" cy="439.39" r="0.69"/><circle cx="258.00" cy="440.31" r="0.70"/><circle cx="258.60" cy="441.21" r="0.72"/><circle cx="259.20" cy="442.10" r="0.74"/><circle cx="259.80" cy="442.97" r="0.76"/><circle cx="260.40" cy="443.82" r="0.78"/><circle cx="261.00" cy="444.65" r="0.80"/><circle cx="261.60" cy="445.47" r="0.82"/><circle cx="262.20" cy="446.26" r="0.85"/><circle cx="262.80" cy="447.01" r="0.87"/><circle cx="263.40" cy="447.73" r="0.90"/><circle cx="264.00" cy="448.41" r="0.93"/><circle cx="264.60" cy="449.05" r="0.97"/><circle cx="265.20" cy="449.65" r="1.00"/><circle cx="265.80" cy="450.22" r="1.03"/><circle cx="266.40" cy="450.75" r="1.07"/><circle cx="267.00" cy="451.26" r="1.11"/><circle cx="267.60" cy="451.74" r="1.14"/><circle cx="268.20" cy="452.20" r="1.18"/><circle cx="268.80" cy="452.65" r="1.22"/><circle cx="269.40" cy="453.10" r="1.26"/><circle cx="270.00" cy="453.53" r="1.29"/><circle cx="270.60" cy="453.96" r="1.33"/><circle cx="271.20" cy="454.37" r="1.36"/><circle cx="271.80" cy="454.76" r="1.39"/><circle cx="272.40" cy="455.13" r="1.42"/><circle cx="273.00" cy="455.48" r="1.45"/><circle cx="273.60" cy="455.80" r="1.48"/><circle cx="274.20" cy="456.10" r="1.50"/><circle cx="274.80" cy="456.36" r="1.52"/><circle cx="275.40" cy="456.58" r="1.53"/><circle cx="276.00" cy="456.76" r="1.54"/><circle cx="276.60" cy="456.90" r="1.55"/><circle cx="277.20" cy="456.99" r="1.55"/><circle cx="277.80" cy="457.04" r="1.55"/><circle cx="278.40" cy="457.05" r="1.54"/><circle cx="279.00" cy="457.04" r="1.53"/><circle cx="279.60" cy="456.99" r="1.52"/><circle cx="280.20" cy="456.90" r="1.50"/><circle cx="280.80" cy="456.77" r="1.48"/><circle cx="281.40" cy="456.60" r="1.46"/><circle cx="282.00" cy="456.38" r="1.43"/><circle cx="282.60" cy="456.12" r="1.40"/><circle cx="283.20" cy="455.82" r="1.37"/><circle cx="283.80" cy="455.48" r="1.34"/><circle cx="284.40" cy="455.10" r="1.30"/><circle cx="285.00" cy="454.68" r="1.27"/><circle cx="285.60" cy="454.22" r="1.23"/><circle cx="286.20" cy="453.73" r="1.19"/><circle cx="286.80" cy="453.20" r="1.16"/><circle cx="287.40" cy="452.64" r="1.12"/><circle cx="288.00" cy="452.05" r="1.08"/><circle cx="288.60" cy="451.43" r="1.05"/><circle cx="289.20" cy="450.79" r="1.01"/><circle cx="289.80" cy="450.13" r="0.98"/><circle cx="290.40" cy="449.44" r="0.94"/><circle cx="291.00" cy="448.74" r="0.91"/><circle cx="291.60" cy="448.01" r="0.88"/><circle cx="292.20" cy="447.27" r="0.86"/><circle cx="292.80" cy="446.52" r="0.83"/><circle cx="293.40" cy="445.75" r="0.80"/><circle cx="294.00" cy="444.96" r="0.78"/><circle cx="294.60" cy="444.16" r="0.76"/><circle cx="295.20" cy="443.35" r="0.74"/><circle cx="295.80" cy="442.52" r="0.73"/><circle cx="296.40" cy="441.68" r="0.71"/><circle cx="297.00" cy="440.81" r="0.70"/><circle cx="297.60" cy="439.93" r="0.68"/><circle cx="298.20" cy="439.03" r="0.67"/><circle cx="298.80" cy="438.11" r="0.66"/><circle cx="299.40" cy="437.18" r="0.65"/><circle cx="300.00" cy="436.23" r="0.65"/><circle cx="300.60" cy="435.26" r="0.64"/><circle cx="301.20" cy="434.28" r="0.63"/><circle cx="301.80" cy="433.28" r="0.63"/><circle cx="302.40" cy="432.27" r="0.62"/><circle cx="303.00" cy="431.24" r="0.62"/><circle cx="303.60" cy="430.21" r="0.62"/><circle cx="304.20" cy="429.16" r="0.61"/><circle cx="304.80" cy="428.09" r="0.61"/><circle cx="305.40" cy="427.02" r="0.61"/><circle cx="306.00" cy="425.94" r="0.61"/><circle cx="306.60" cy="424.84" r="0.61"/><circle cx="307.20" cy="423.72" r="0.60"/><circle cx="307.80" cy="422.59" r="0.60"/><circle cx="308.40" cy="421.44" r="0.60"/><circle cx="309.00" cy="420.27" r="0.60"/><circle cx="309.60" cy="419.09" r="0.60"/><circle cx="310.20" cy="417.90" r="0.60"/><circle cx="310.80" cy="416.70" r="0.60"/><circle cx="311.40" cy="415.49" r="0.60"/><circle cx="312.00" cy="414.26" r="0.60"/><circle cx="312.60" cy="413.03" r="0.60"/><circle cx="313.20" cy="411.79" r="0.60"/><circle cx="313.80" cy="410.54" r="0.60"/><circle cx="314.40" cy="409.28" r="0.60"/><circle cx="315.00" cy="408.02" r="0.60"/><circle cx="315.60" cy="406.75" r="0.60"/><circle cx="316.20" cy="405.47" r="0.60"/><circle cx="316.80" cy="404.18" r="0.60"/><circle cx="317.40" cy="402.87" r="0.60"/><circle cx="318.00" cy="401.54" r="0.60"/><circle cx="318.60" cy="400.20" r="0.60"/><circle cx="319.20" cy="398.84" r="0.60"/><circle cx="319.80" cy="397.48" r="0.60"/><circle cx="320.40" cy="396.11" r="0.60"/><circle cx="321.00" cy="394.73" r="0.60"/><circle cx="321.60" cy="393.36" r="0.60"/><circle cx="322.20" cy="391.98" r="0.60"/><circle cx="322.80" cy="390.60" r="0.60"/><circle cx="323.40" cy="389.23" r="0.60"/><circle cx="324.00" cy="387.87" r="0.60"/><circle cx="324.60" cy="386.52" r="0.60"/><circle cx="325.20" cy="385.18" r="0.60"/><circle cx="325.80" cy="383.86" r="0.60"/><circle cx="326.40" cy="382.57" r="0.60"/><circle cx="327.00" cy="381.26" r="0.60"/><circle cx="327.60" cy="379.93" r="0.60"/><circle cx="328.20" cy="378.59" r="0.60"/><circle cx="328.80" cy="377.24" r="0.60"/><circle cx="329.40" cy="375.91" r="0.60"/><circle cx="330.00" cy="374.59" r="0.60"/><circle cx="330.60" cy="373.32" r="0.60"/><circle cx="331.20" cy="372.09" r="0.60"/><circle cx="331.80" cy="370.94" r="0.60"/><circle cx="332.40" cy="369.86" r="0.60"/><circle cx="333.00" cy="368.87" r="0.60"/><circle cx="333.60" cy="367.98" r="0.60"/><circle cx="334.20" cy="367.19" r="0.60"/><circle cx="334.80" cy="366.52" r="0.60"/><circle cx="335.40" cy="365.94" r="0.60"/><circle cx="336.00" cy="365.42" r="0.60"/><circle cx="336.60" cy="364.96" r="0.60"/><circle cx="337.20" cy="364.55" r="0.60"/><circle cx="337.80" cy="364.17" r="0.60"/><circle cx="338.40" cy="363.82" r="0.60"/><circle cx="339.00" cy="363.49" r="0.60"/><circle cx="339.60" cy="363.18" r="0.60"/><circle cx="340.20" cy="362.88" r="0.60"/><circle cx="340.80" cy="362.57" r="0.60"/><circle cx="341.40" cy="362.23" r="0.60"/></g>
<path d="M277.30,457.00 C276.53,459.08 274.10,464.45 272.70,469.50 C271.30,474.55 269.63,483.55 268.90,487.30 C268.17,491.05 268.40,491.22 268.30,492.00" fill="none" stroke="#1a1a3a" stroke-width="1"/>
<g fill="#c83a50"><circle cx="268.30" cy="492.00" r="1.40"/><circle cx="268.90" cy="487.30" r="1.40"/><circle cx="269.50" cy="484.20" r="1.40"/><circle cx="270.10" cy="481.13" r="1.40"/><circle cx="270.70" cy="478.16" r="1.40"/><circle cx="271.30" cy="475.32" r="1.40"/><circle cx="271.90" cy="472.66" r="1.40"/><circle cx="272.50" cy="470.24" r="1.40"/><circle cx="273.10" cy="468.14" r="1.40"/><circle cx="273.70" cy="466.29" r="1.40"/><circle cx="274.30" cy="464.60" r="1.40"/><circle cx="274.90" cy="463.00" r="1.40"/><circle cx="275.50" cy="461.48" r="1.40"/><circle cx="276.10" cy="459.99" r="1.40"/><circle cx="276.70" cy="458.52" r="1.40"/><circle cx="277.30" cy="457.00" r="1.40"/></g>
<g fill="#2a2f80"><circle cx="268.30" cy="492.00" r="0.90"/><circle cx="268.90" cy="487.30" r="0.90"/><circle cx="269.50" cy="484.20" r="0.90"/><circle cx="270.10" cy="481.13" r="0.90"/><circle cx="270.70" cy="478.16" r="0.90"/><circle cx="271.30" cy="475.32" r="0.90"/><circle cx="271.90" cy="472.66" r="0.90"/><circle cx="272.50" cy="470.24" r="0.90"/><circle cx="273.10" cy="468.14" r="0.90"/><circle cx="273.70" cy="466.29" r="0.90"/><circle cx="274.30" cy="464.60" r="0.90"/><circle cx="274.90" cy="463.00" r="0.90"/><circle cx="275.50" cy="461.48" r="0.90"/><circle cx="276.10" cy="459.99" r="0.90"/><circle cx="276.70" cy="458.52" r="0.90"/><circle cx="277.30" cy="457.00" r="0.90"/></g>
<path d="M277.30,457.00 C278.15,459.08 280.92,464.45 282.40,469.50 C283.88,474.55 285.47,483.55 286.20,487.30 C286.93,491.05 286.70,491.22 286.80,492.00" fill="none" stroke="#1a1a3a" stroke-width="1"/>
<g fill="#c83a50"><circle cx="277.30" cy="457.00" r="1.40"/><circle cx="277.90" cy="458.36" r="1.40"/><circle cx="278.50" cy="459.67" r="1.40"/><circle cx="279.10" cy="460.99" r="1.40"/><circle cx="279.70" cy="462.34" r="1.40"/><circle cx="280.30" cy="463.74" r="1.40"/><circle cx="280.90" cy="465.21" r="1.40"/><circle cx="281.50" cy="466.78" r="1.40"/><circle cx="282.10" cy="468.53" r="1.40"/><circle cx="282.70" cy="470.57" r="1.40"/><circle cx="283.30" cy="472.95" r="1.40"/><circle cx="283.90" cy="475.61" r="1.40"/><circle cx="284.50" cy="478.48" r="1.40"/><circle cx="285.10" cy="481.53" r="1.40"/><circle cx="285.70" cy="484.68" r="1.40"/><circle cx="286.30" cy="487.82" r="1.40"/></g>
<g fill="#2a2f80"><circle cx="277.30" cy="457.00" r="0.90"/><circle cx="277.90" cy="458.36" r="0.90"/><circle cx="278.50" cy="459.67" r="0.90"/><circle cx="279.10" cy="460.99" r="0.90"/><circle cx="279.70" cy="462.34" r="0.90"/><circle cx="280.30" cy="463.74" r="0.90"/><circle cx="280.90" cy="465.21" r="0.90"/><circle cx="281.50" cy="466.78" r="0.90"/><circle cx="282.10" cy="468.53" r="0.90"/><circle cx="282.70" cy="470.57" r="0.90"/><circle cx="283.30" cy="472.95" r="0.90"/><circle cx="283.90" cy="475.61" r="0.90"/><circle cx="284.50" cy="478.48" r="0.90"/><circle cx="285.10" cy="481.53" r="0.90"/><circle cx="285.70" cy="484.68" r="0.90"/><circle cx="286.30" cy="487.82" r="0.90"/></g>
</g>
<rect x="144.3" y="346.2" width="10.3" height="10.4" fill="none" stroke="#222" stroke-width="1"/>
<line x1="154.6" y1="346.2" x2="204.9" y2="294.5" stroke="#222" stroke-width="1"/>
<line x1="154.6" y1="356.6" x2="204.9" y2="351" stroke="#222" stroke-width="1"/>
<rect x="204.9" y="294.5" width="55.5" height="56.5" fill="#fff" stroke="#333" stroke-width="1.2"/>
<line x1="233" y1="294.5" x2="233" y2="351" stroke="#999" stroke-width="1" stroke-dasharray="3,3"/>
<g fill="none" stroke="#3a64b4" stroke-width="1.4">
<path d="M205.40,294.10 C205.63,294.97 206.32,297.62 206.78,299.31 C207.24,301.00 207.70,302.64 208.16,304.25 C208.62,305.85 209.08,307.41 209.54,308.92 C210.00,310.43 210.46,311.90 210.92,313.32 C211.38,314.75 211.84,316.13 212.30,317.46 C212.76,318.80 213.22,320.09 213.68,321.33 C214.14,322.58 214.60,323.78 215.06,324.94 C215.52,326.10 215.98,327.21 216.44,328.28 C216.90,329.34 217.36,330.37 217.82,331.35 C218.28,332.33 218.74,333.26 219.20,334.15 C219.66,335.04 220.12,335.89 220.58,336.69 C221.04,337.49 221.50,338.24 221.96,338.96 C222.42,339.67 222.88,340.34 223.34,340.96 C223.80,341.58 224.26,342.16 224.72,342.69 C225.18,343.23 225.64,343.72 226.10,344.16 C226.56,344.61 227.02,345.01 227.48,345.36 C227.94,345.72 228.40,346.03 228.86,346.30 C229.32,346.57 229.78,346.79 230.24,346.97 C230.70,347.14 231.16,347.28 231.62,347.37 C232.08,347.46 232.54,347.50 233.00,347.50 C233.46,347.50 233.92,347.46 234.38,347.37 C234.84,347.28 235.30,347.14 235.76,346.97 C236.22,346.79 236.68,346.57 237.14,346.30 C237.60,346.03 238.06,345.72 238.52,345.36 C238.98,345.01 239.44,344.61 239.90,344.16 C240.36,343.72 240.82,343.23 241.28,342.69 C241.74,342.16 242.20,341.58 242.66,340.96 C243.12,340.34 243.58,339.67 244.04,338.96 C244.50,338.24 244.96,337.49 245.42,336.69 C245.88,335.89 246.34,335.04 246.80,334.15 C247.26,333.26 247.72,332.33 248.18,331.35 C248.64,330.37 249.10,329.34 249.56,328.28 C250.02,327.21 250.48,326.10 250.94,324.94 C251.40,323.78 251.86,322.58 252.32,321.33 C252.78,320.09 253.24,318.80 253.70,317.46 C254.16,316.13 254.62,314.75 255.08,313.32 C255.54,311.90 256.00,310.43 256.46,308.92 C256.92,307.41 257.38,305.85 257.84,304.25 C258.30,302.64 258.76,301.00 259.22,299.31 C259.68,297.62 260.37,294.97 260.60,294.10"/>
<path d="M205.00,311.83 C205.23,312.41 205.93,314.17 206.40,315.30 C206.86,316.43 207.33,317.53 207.79,318.59 C208.26,319.66 208.73,320.70 209.19,321.71 C209.66,322.72 210.12,323.70 210.59,324.65 C211.06,325.60 211.52,326.52 211.99,327.41 C212.45,328.30 212.92,329.16 213.38,329.99 C213.85,330.83 214.32,331.63 214.78,332.40 C215.25,333.17 215.71,333.91 216.18,334.63 C216.65,335.34 217.11,336.02 217.58,336.68 C218.04,337.33 218.51,337.96 218.97,338.55 C219.44,339.14 219.91,339.71 220.37,340.24 C220.84,340.78 221.30,341.29 221.77,341.76 C222.24,342.24 222.70,342.68 223.17,343.10 C223.63,343.52 224.10,343.91 224.56,344.26 C225.03,344.62 225.50,344.95 225.96,345.25 C226.43,345.54 226.89,345.81 227.36,346.05 C227.83,346.29 228.29,346.50 228.76,346.68 C229.22,346.86 229.69,347.01 230.16,347.13 C230.62,347.25 231.09,347.34 231.55,347.40 C232.02,347.47 232.48,347.50 232.95,347.50 C233.42,347.50 233.88,347.47 234.35,347.42 C234.81,347.36 235.28,347.27 235.75,347.16 C236.21,347.04 236.68,346.89 237.14,346.72 C237.61,346.54 238.07,346.34 238.54,346.10 C239.01,345.87 239.47,345.60 239.94,345.31 C240.40,345.02 240.87,344.69 241.33,344.34 C241.80,343.99 242.27,343.60 242.73,343.19 C243.20,342.78 243.66,342.34 244.13,341.86 C244.60,341.39 245.06,340.89 245.53,340.36 C245.99,339.83 246.46,339.27 246.92,338.68 C247.39,338.09 247.86,337.47 248.32,336.82 C248.79,336.17 249.25,335.49 249.72,334.78 C250.19,334.07 250.65,333.33 251.12,332.56 C251.58,331.80 252.05,331.00 252.51,330.17 C252.98,329.34 253.45,328.49 253.91,327.60 C254.38,326.71 254.84,325.80 255.31,324.85 C255.78,323.91 256.24,322.93 256.71,321.93 C257.17,320.92 257.64,319.89 258.10,318.82 C258.57,317.76 259.04,316.67 259.50,315.54 C259.97,314.42 260.67,312.66 260.90,312.08"/>
</g>
<circle cx="302.9" cy="314.3" r="2.6" fill="#2a52a8"/>
<circle cx="302.9" cy="346.8" r="2.6" fill="#d83030"/>
<rect x="85.0" y="227.0" width="256.6" height="260.3" fill="none" stroke="#8e8e8e" stroke-width="1.3"/>
<g stroke="#8e8e8e" stroke-width="1">
<line x1="85.0" y1="292.02" x2="87.5" y2="292.02"/>
<line x1="85.0" y1="356.90" x2="87.5" y2="356.90"/>
<line x1="85.0" y1="421.77" x2="87.5" y2="421.77"/>
</g>
<g stroke="#8a8a8a" stroke-width="1" stroke-dasharray="3,3" fill="none">
<line x1="522.8" y1="227.2" x2="522.8" y2="487.3"/>
<line x1="439.3" y1="434.7" x2="606.3" y2="434.7"/>
</g>
<path d="M439.30,434.00 C441.42,434.00 449.22,433.93 452.00,434.00 C454.78,434.07 454.80,433.97 456.00,434.40 C457.20,434.83 458.12,436.60 459.20,436.60 C460.28,436.60 461.37,434.83 462.50,434.40 C463.63,433.97 459.75,434.07 466.00,434.00 C472.25,433.93 491.50,434.00 500.00,434.00 C508.50,434.00 513.73,434.10 517.00,434.00 C520.27,433.90 518.93,434.90 519.60,433.40 C520.27,431.90 520.57,429.00 521.00,425.00 C521.43,421.00 521.82,419.07 522.20,409.40 C522.58,399.73 522.93,381.90 523.30,367.00 C523.67,352.10 524.08,336.17 524.40,320.00 C524.72,303.83 524.93,282.57 525.20,270.00 C525.47,257.43 525.72,245.93 526.00,244.60 C526.28,243.27 526.55,249.43 526.90,262.00 C527.25,274.57 527.68,302.50 528.10,320.00 C528.52,337.50 528.98,356.67 529.40,367.00 C529.82,377.33 530.18,376.71 530.60,382.00 C531.02,387.29 531.38,393.88 531.90,398.75 C532.42,403.62 532.82,407.50 533.75,411.25 C534.68,415.00 535.62,418.44 537.50,421.25 C539.38,424.06 542.08,426.43 545.00,428.10 C547.92,429.77 550.83,430.42 555.00,431.25 C559.17,432.08 565.00,432.68 570.00,433.10 C575.00,433.52 578.95,433.60 585.00,433.75 C591.05,433.90 602.75,433.96 606.30,434.00" fill="none" stroke="#d8501e" stroke-width="3.2" stroke-linejoin="round" clip-path="url(#clipD)"/>
<rect x="453.1" y="429.6" width="12.5" height="12" fill="none" stroke="#333" stroke-width="1"/>
<line x1="459.2" y1="429.6" x2="477.5" y2="412.3" stroke="#333" stroke-width="1"/>
<polygon points="479.2,410.6 472.6,413.6 476.2,417.2" fill="#333"/>
<rect x="453.1" y="369.1" width="57" height="41" fill="#fff" stroke="#555" stroke-width="1.1"/>
<line x1="453.6" y1="379.2" x2="509.6" y2="379.2" stroke="#999" stroke-width="1" stroke-dasharray="3,3"/>
<path d="M453.40,377.90 C454.67,378.33 458.43,379.48 461.00,380.50 C463.57,381.52 466.97,382.75 468.80,384.00 C470.63,385.25 471.07,386.40 472.00,388.00 C472.93,389.60 473.57,391.27 474.40,393.60 C475.23,395.93 476.20,399.77 477.00,402.00 C477.80,404.23 478.48,406.83 479.20,407.00 C479.92,407.17 480.63,404.70 481.30,403.00 C481.97,401.30 482.50,399.63 483.20,396.80 C483.90,393.97 484.70,389.20 485.50,386.00 C486.30,382.80 487.17,379.47 488.00,377.60 C488.83,375.73 489.70,375.38 490.50,374.80 C491.30,374.22 491.22,374.28 492.80,374.10 C494.38,373.92 497.17,373.78 500.00,373.70 C502.83,373.62 508.17,373.62 509.80,373.60" fill="none" stroke="#d8501e" stroke-width="2.8" stroke-linejoin="round"/>
<rect x="439.3" y="227.2" width="167.0" height="260.1" fill="none" stroke="#8e8e8e" stroke-width="1.3"/>
<g stroke="#8e8e8e" stroke-width="1">
<line x1="439.3" y1="278.94" x2="441.8" y2="278.94"/>
<line x1="439.3" y1="330.86" x2="441.8" y2="330.86"/>
<line x1="439.3" y1="382.78" x2="441.8" y2="382.78"/>
<line x1="439.3" y1="434.70" x2="441.8" y2="434.70"/>
<line x1="481.05" y1="487.3" x2="481.05" y2="484.8"/>
<line x1="564.55" y1="487.3" x2="564.55" y2="484.8"/>
</g>
<text x="106.97" y="146.59" class="tri" font-size="16.72" text-anchor="middle">c</text>
<text x="73.42" y="198.35" class="tri" font-size="20.70" text-anchor="middle">a</text>
<text x="147.80" y="194.30" class="tri" font-size="19.24" text-anchor="middle" textLength="12.92" lengthAdjust="spacingAndGlyphs">b</text>
<text x="286.05" y="199.98" class="form" font-size="26.41" text-anchor="middle" textLength="104.96" lengthAdjust="spacingAndGlyphs"><tspan fill="#a7ad2c">Ca</tspan>(<tspan fill="#e2606c">Fe</tspan><tspan fill="#5596e2">N</tspan>)<tspan font-size="0.654em" dy="5">2</tspan></text>
<text x="32.16" y="30.24" class="lab" font-size="27.00" text-anchor="middle" textLength="35.48" lengthAdjust="spacingAndGlyphs">(a)</text>
<text x="382.86" y="29.76" class="lab" font-size="27.19" text-anchor="middle" textLength="36.50" lengthAdjust="spacingAndGlyphs">(b)</text>
<text x="32.36" y="224.90" class="lab" font-size="27.02" text-anchor="middle" textLength="36.16" lengthAdjust="spacingAndGlyphs">(c)</text>
<text x="383.22" y="224.90" class="lab" font-size="27.02" text-anchor="middle" textLength="36.50" lengthAdjust="spacingAndGlyphs">(d)</text>
<text x="420.00" y="51.85" class="big" font-size="32.22" text-anchor="middle" textLength="29.44" lengthAdjust="spacingAndGlyphs">M</text>
<text x="506.92" y="52.86" class="bigY" font-size="32.48" text-anchor="middle" textLength="21.25" lengthAdjust="spacingAndGlyphs">Y</text>
<text x="625.53" y="52.11" class="big" font-size="32.34" text-anchor="middle" textLength="27.84" lengthAdjust="spacingAndGlyphs">M</text>
<text x="509.96" y="133.02" class="big" font-size="32.51" text-anchor="middle" textLength="19.27" lengthAdjust="spacingAndGlyphs">Γ</text>
<text x="621.66" y="134.86" class="big" font-size="32.48" text-anchor="middle" textLength="22.78" lengthAdjust="spacingAndGlyphs">X</text>
<text x="322.85" y="317.65" class="leg" font-size="22.30" text-anchor="middle" textLength="25.12" lengthAdjust="spacingAndGlyphs">Fe</text>
<text x="323.75" y="351.70" class="leg" font-size="21.59" text-anchor="middle">N</text>
<text x="66.15" y="239.68" class="tick" font-size="23.04" text-anchor="middle" textLength="26.59" lengthAdjust="spacingAndGlyphs">0.5</text>
<text x="60.40" y="301.60" class="tick" font-size="22.73" text-anchor="middle" textLength="38.06" lengthAdjust="spacingAndGlyphs">0.25</text>
<text x="74.08" y="364.12" class="tick" font-size="23.73" text-anchor="middle" textLength="11.32" lengthAdjust="spacingAndGlyphs">0</text>
<text x="56.68" y="425.18" class="tick" font-size="23.49" text-anchor="middle" textLength="45.34" lengthAdjust="spacingAndGlyphs">-0.25</text>
<text x="61.98" y="485.44" class="tick" font-size="22.73" text-anchor="middle" textLength="34.10" lengthAdjust="spacingAndGlyphs">-0.5</text>
<text transform="translate(33.32,357.06) rotate(-90)" class="axl" font-size="18.60" text-anchor="middle" textLength="99.31" lengthAdjust="spacingAndGlyphs">Energy (eV)</text>
<text x="86.98" y="512.98" class="big" font-size="32.27" text-anchor="middle" textLength="22.76" lengthAdjust="spacingAndGlyphs">Y</text>
<text x="152.00" y="513.20" class="big" font-size="32.64" text-anchor="middle" textLength="19.67" lengthAdjust="spacingAndGlyphs">Γ</text>
<text x="214.74" y="513.37" class="big" font-size="32.56" text-anchor="middle" textLength="20.81" lengthAdjust="spacingAndGlyphs">X</text>
<text x="277.98" y="513.88" class="big" font-size="32.52" text-anchor="middle" textLength="28.55" lengthAdjust="spacingAndGlyphs">M</text>
<text x="339.88" y="512.98" class="big" font-size="32.27" text-anchor="middle" textLength="22.25" lengthAdjust="spacingAndGlyphs">Y</text>
<text x="422.25" y="238.20" class="tick" font-size="22.43" text-anchor="middle" textLength="23.19" lengthAdjust="spacingAndGlyphs">40</text>
<text x="422.24" y="287.78" class="tick" font-size="22.02" text-anchor="middle" textLength="22.11" lengthAdjust="spacingAndGlyphs">30</text>
<text x="422.30" y="338.60" class="tick" font-size="22.43" text-anchor="middle" textLength="22.99" lengthAdjust="spacingAndGlyphs">20</text>
<text x="422.86" y="390.47" class="tick" font-size="22.32" text-anchor="middle" textLength="22.08" lengthAdjust="spacingAndGlyphs">10</text>
<text x="429.30" y="442.15" class="tick" font-size="21.73" text-anchor="middle" textLength="11.27" lengthAdjust="spacingAndGlyphs">0</text>
<text x="418.43" y="486.87" class="tick" font-size="22.32" text-anchor="middle" textLength="30.13" lengthAdjust="spacingAndGlyphs">-10</text>
<text x="441.52" y="507.20" class="tick" font-size="22.73" text-anchor="middle" textLength="34.99" lengthAdjust="spacingAndGlyphs">-0.5</text>
<text x="523.44" y="506.94" class="tick" font-size="22.02" text-anchor="middle" textLength="12.52" lengthAdjust="spacingAndGlyphs">0</text>
<text x="602.26" y="507.82" class="tick" font-size="23.49" text-anchor="middle" textLength="27.02" lengthAdjust="spacingAndGlyphs">0.5</text>
<text x="526.90" y="525.70" class="axl" font-size="21.00" text-anchor="middle" textLength="58.30" lengthAdjust="spacingAndGlyphs">E<tspan font-size="0.667em" dy="4">F</tspan><tspan dy="-4"> (eV)</tspan></text>
<text transform="translate(401.98,360.20) rotate(-90)" class="axl" font-size="16.00" text-anchor="middle" textLength="98.44" lengthAdjust="spacingAndGlyphs">χ<tspan font-size="0.72em" dy="2.7">xy</tspan><tspan dy="-2.7"> (e</tspan><tspan font-size="0.66em" dy="-5.2">2</tspan><tspan dy="5.2">Å/hV)</tspan></text></svg>
</body></html>
